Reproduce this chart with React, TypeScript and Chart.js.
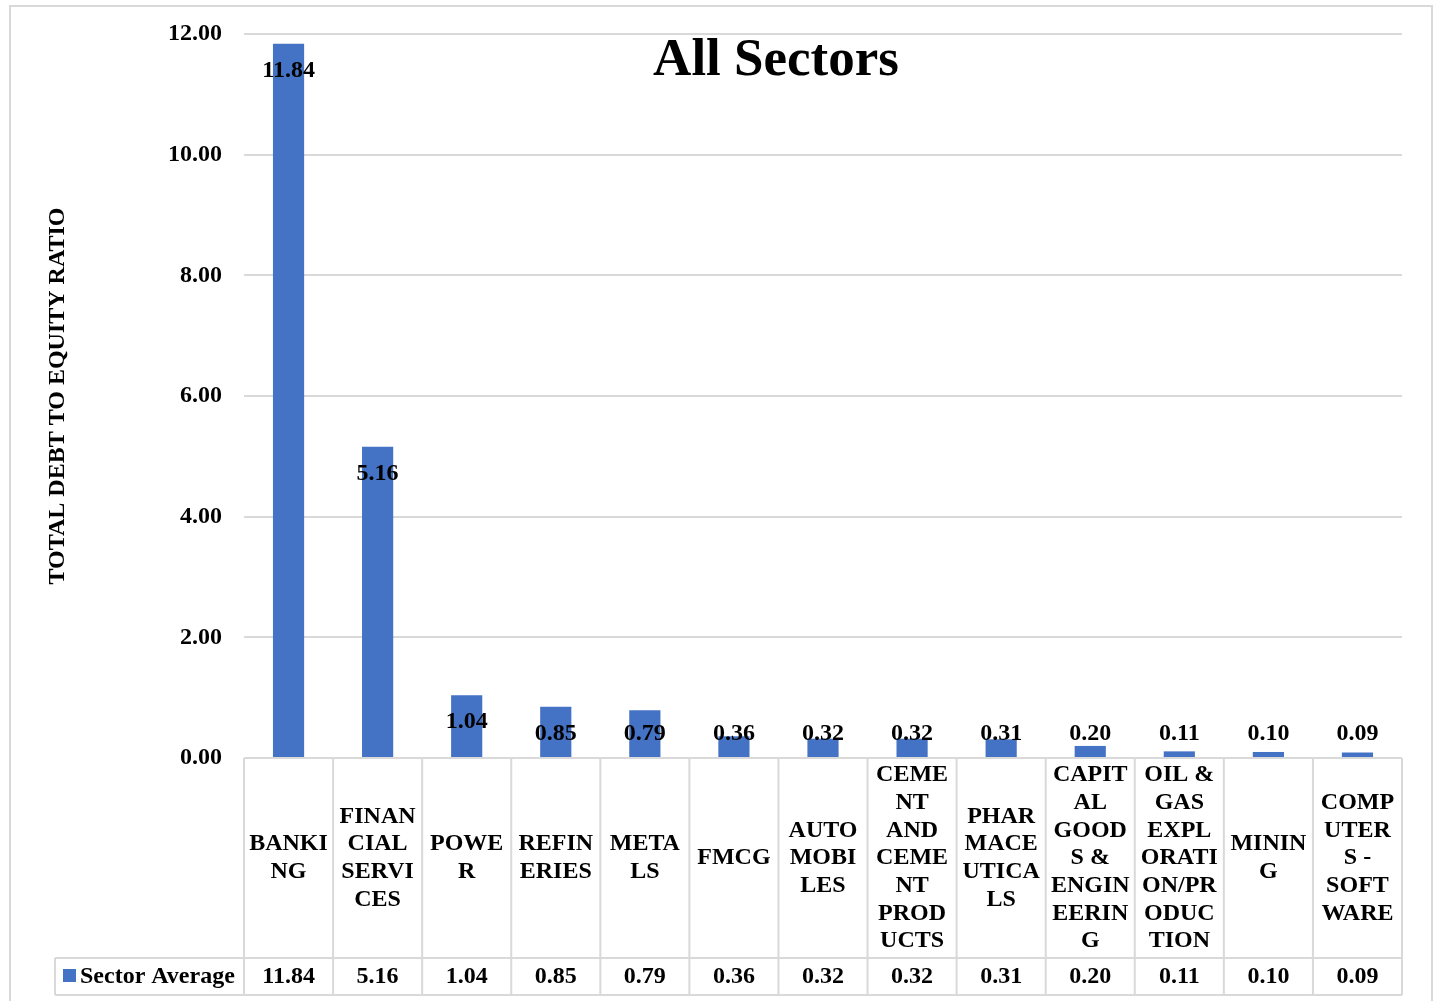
import React, { useEffect, useRef } from "react";
import { Chart, registerables } from "chart.js";

Chart.register(...registerables);

const categories = [
  "BANKING",
  "FINANCIAL SERVICES",
  "POWER",
  "REFINERIES",
  "METALS",
  "FMCG",
  "AUTOMOBILES",
  "CEMENT AND CEMENT PRODUCTS",
  "PHARMACEUTICALS",
  "CAPITAL GOODS & ENGINEERING",
  "OIL & GAS EXPLORATION/PRODUCTION",
  "MINING",
  "COMPUTERS - SOFTWARE",
];

const categoryLines = [
  ["BANKI", "NG"],
  ["FINAN", "CIAL", "SERVI", "CES"],
  ["POWE", "R"],
  ["REFIN", "ERIES"],
  ["META", "LS"],
  ["FMCG"],
  ["AUTO", "MOBI", "LES"],
  ["CEME", "NT", "AND", "CEME", "NT", "PROD", "UCTS"],
  ["PHAR", "MACE", "UTICA", "LS"],
  ["CAPIT", "AL", "GOOD", "S &", "ENGIN", "EERIN", "G"],
  ["OIL &", "GAS", "EXPL", "ORATI", "ON/PR", "ODUC", "TION"],
  ["MININ", "G"],
  ["COMP", "UTER", "S -", "SOFT", "WARE"],
];

const sectorAverage = [11.84, 5.16, 1.04, 0.85, 0.79, 0.36, 0.32, 0.32, 0.31, 0.2, 0.11, 0.1, 0.09];

const seriesName = "Sector Average";
const chartTitle = "All Sectors";
const yAxisTitle = "TOTAL DEBT TO EQUITY RATIO";

const FONT = '"Liberation Serif", "Times New Roman", serif';
const BLUE = "#4472C4";
const GRID = "#d9d9d9";

const decorPlugin = {
  id: "decor",
  beforeDraw(chart: any) {
    const ctx = chart.ctx;
    ctx.save();
    ctx.fillStyle = "#ffffff";
    ctx.fillRect(0, 0, chart.width, chart.height);
    ctx.strokeStyle = GRID;
    ctx.lineWidth = 2;
    ctx.strokeRect(10, 6, 1422, 1010);
    ctx.restore();
  },
  afterDatasetsDraw(chart: any) {
    const ctx = chart.ctx;
    const meta = chart.getDatasetMeta(0);
    const y0 = chart.scales.y.getPixelForValue(0);
    ctx.save();
    ctx.font = `bold 24px ${FONT}`;
    ctx.fillStyle = "#000";
    ctx.textAlign = "center";
    ctx.textBaseline = "middle";
    meta.data.forEach((bar: any, i: number) => {
      const y = Math.min(bar.y + 27, y0 - 24);
      ctx.fillText(sectorAverage[i].toFixed(2), bar.x, y);
    });
    ctx.restore();
  },
  afterDraw(chart: any) {
    const ctx = chart.ctx;
    const xs = chart.scales.x;
    const area = chart.chartArea;
    const n = categories.length;
    const w = (area.right - area.left) / n;
    const top = chart.scales.y.getPixelForValue(0);
    const mid = top + 200;
    const bottom = mid + 37;
    const legendLeft = 55;
    ctx.save();
    ctx.strokeStyle = GRID;
    ctx.lineWidth = 2;
    ctx.beginPath();
    ctx.moveTo(area.left, top);
    ctx.lineTo(area.right, top);
    ctx.moveTo(legendLeft, mid);
    ctx.lineTo(area.right, mid);
    ctx.moveTo(legendLeft, bottom);
    ctx.lineTo(area.right, bottom);
    for (let i = 0; i <= n; i++) {
      const x = area.left + i * w;
      ctx.moveTo(x, top);
      ctx.lineTo(x, bottom);
    }
    ctx.moveTo(legendLeft, mid);
    ctx.lineTo(legendLeft, bottom);
    ctx.stroke();

    ctx.font = `bold 24px ${FONT}`;
    ctx.fillStyle = "#000";
    ctx.textAlign = "center";
    ctx.textBaseline = "middle";
    const lh = 27.7;
    const headerCenter = (top + mid) / 2;
    categories.forEach((_c, i) => {
      const cx = xs.getPixelForValue(i);
      const lines = categoryLines[i];
      lines.forEach((ln, k) => {
        ctx.fillText(ln, cx, headerCenter + (k - (lines.length - 1) / 2) * lh);
      });
      ctx.fillText(sectorAverage[i].toFixed(2), cx, (mid + bottom) / 2);
    });

    // legend cell
    ctx.fillStyle = BLUE;
    ctx.fillRect(63, mid + 11, 13, 13);
    ctx.fillStyle = "#000";
    ctx.textAlign = "left";
    ctx.fillText(seriesName, 80, (mid + bottom) / 2);

    // chart title
    ctx.font = `bold 53px ${FONT}`;
    ctx.textAlign = "center";
    ctx.textBaseline = "alphabetic";
    ctx.fillText(chartTitle, 776, 75);
    ctx.restore();
  },
};

export default function App() {
  const canvasRef = useRef<HTMLCanvasElement | null>(null);

  useEffect(() => {
    if (!canvasRef.current) return;
    const chart = new Chart(canvasRef.current, {
      type: "bar",
      data: {
        labels: categories,
        datasets: [
          {
            label: seriesName,
            data: sectorAverage,
            backgroundColor: BLUE,
            borderWidth: 0,
            categoryPercentage: 0.35,
            barPercentage: 1,
          },
        ],
      },
      options: {
        animation: false,
        responsive: false,
        maintainAspectRatio: false,
        layout: { padding: { left: 0, top: 34, right: 35, bottom: 243 } },
        plugins: {
          legend: { display: false },
          tooltip: { enabled: false },
          title: { display: false },
        },
        scales: {
          x: { display: false },
          y: {
            min: 0,
            max: 12,
            afterFit: (scale: any) => {
              scale.width = 244;
            },
            ticks: {
              stepSize: 2,
              padding: 22,
              color: "#000",
              font: { family: FONT, size: 24, weight: "bold", lineHeight: 1 },
              callback: (v: any) => Number(v).toFixed(2),
            },
            grid: { color: GRID, lineWidth: 2, drawTicks: false },
            border: { display: false },
            title: {
              display: true,
              text: yAxisTitle,
              color: "#000",
              font: { family: FONT, size: 24, weight: "bold" },
              padding: { top: 43, bottom: 0 },
            },
          },
        },
      },
      plugins: [decorPlugin],
    });
    return () => chart.destroy();
  }, []);

  return (
    <div style={{ position: "absolute", left: 0, top: 0, width: 1437, height: 1001 }}>
      <canvas ref={canvasRef} width={1437} height={1001} style={{ width: 1437, height: 1001, display: "block" }} />
    </div>
  );
}
